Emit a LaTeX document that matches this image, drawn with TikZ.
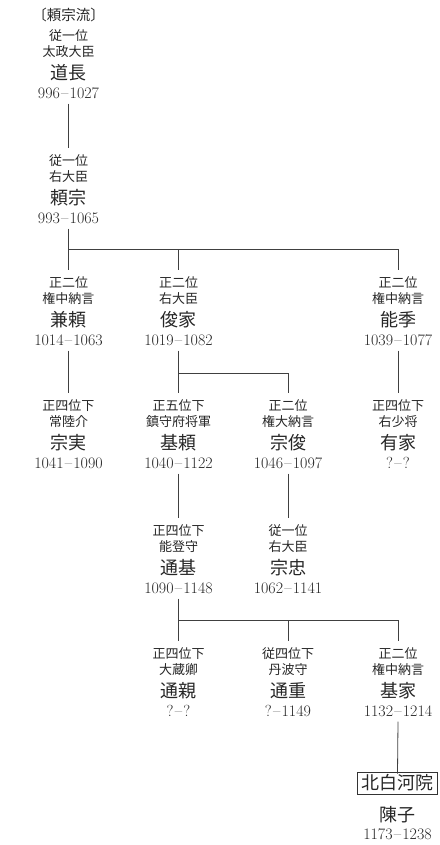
\documentclass[tikz,border=0pt]{standalone}
\usepackage{fontspec}
\newfontfamily\cjk{Noto Sans CJK JP}
\newcommand\yd{\kern1.2pt--\kern1.2pt}
\newcommand\person[4]{\vbox{\offinterlineskip\halign{\hfil##\hfil\cr
\vrule height16.9pt depth3pt width0pt\cjk\fontsize{13}{13}\selectfont #1\cr
\vrule height13pt depth3pt width0pt\cjk\fontsize{13}{13}\selectfont #2\cr
\vrule height20.2pt depth4pt width0pt\cjk\fontsize{18}{18}\selectfont #3\cr
\vrule height15.2pt depth5pt width0pt\rmfamily\fontsize{16}{16}\selectfont #4\cr}}}
\begin{document}
\begin{tikzpicture}[x=1pt,y=-1pt,
  person/.style={inner sep=0pt, anchor=north, text=black!85},
  conn/.style={line width=0.8pt, draw=black!75},
  title/.style={font=\cjk\fontsize{14.5}{14.5}\selectfont, text=black!85, inner sep=0pt},
  namebox/.style={draw=black!80, line width=0.8pt, font=\cjk\fontsize{18}{18}\selectfont, text=black!85, inner sep=0pt, minimum width=80pt, minimum height=22pt},
  bigname/.style={font=\cjk\fontsize{18}{18}\selectfont, text=black!85, inner sep=0pt},
  years/.style={font=\rmfamily\fontsize{16}{16}\selectfont, text=black!85, inner sep=0pt}]
\useasboundingbox (0,0) rectangle (439,845);
\node[title] (ryu) at (68.5,15) {〔頼宗流〕};
\node[person] (michinaga) at (68.5,23) {\person{従一位}{太政大臣}{道長}{996\yd1027}};
\node[person] (yorimune) at (68.5,148) {\person{従一位}{右大臣}{頼宗}{993\yd1065}};
\node[person] (kaneyori) at (68.5,270) {\person{正二位}{権中納言}{兼頼}{1014\yd1063}};
\node[person] (toshiie) at (178.5,270) {\person{正二位}{右大臣}{俊家}{1019\yd1082}};
\node[person] (yoshisue) at (398,270) {\person{正二位}{権中納言}{能季}{1039\yd1077}};
\node[person] (munezane) at (68.5,393) {\person{正四位下}{常陸介}{宗実}{1041\yd1090}};
\node[person] (motoyori) at (178.5,393) {\person{正五位下}{鎮守府将軍}{基頼}{1040\yd1122}};
\node[person] (munetoshi) at (288,393) {\person{正二位}{権大納言}{宗俊}{1046\yd1097}};
\node[person] (ariie) at (398,393) {\person{正四位下}{右少将}{有家}{?\yd?}};
\node[person] (michimoto) at (178.5,518) {\person{正四位下}{能登守}{通基}{1090\yd1148}};
\node[person] (munetada) at (288,518) {\person{従一位}{右大臣}{宗忠}{1062\yd1141}};
\node[person] (michichika) at (178.5,641) {\person{正四位下}{大蔵卿}{通親}{?\yd?}};
\node[person] (michishige) at (288,641) {\person{従四位下}{丹波守}{通重}{?\yd1149}};
\node[person] (motoie) at (398,641) {\person{正二位}{権中納言}{基家}{1132\yd1214}};
\node[namebox] (kitashirakawa) at (397.5,783) {北白河院};
\node[bigname] (noriko) at (397.5,815) {陳子};
\node[years] (norikoyears) at (397.5,834) {1173\yd1238};
\coordinate (j1) at (68.5,249);
\coordinate (j2) at (178.5,373);
\coordinate (j3) at (178.5,620);
\draw[conn] (michinaga.south) -- (yorimune.north);
\draw[conn] (yorimune.south) -- (j1) -- (kaneyori.north);
\draw[conn] (j1) -- (j1 -| yoshisue.north) -- (yoshisue.north);
\draw[conn] (j1 -| toshiie.north) -- (toshiie.north);
\draw[conn] (kaneyori.south) -- (munezane.north);
\draw[conn] (toshiie.south) -- (motoyori.north);
\draw[conn] (j2) -- (j2 -| munetoshi.north) -- (munetoshi.north);
\draw[conn] (yoshisue.south) -- (ariie.north);
\draw[conn] (motoyori.south) -- (michimoto.north);
\draw[conn] (munetoshi.south) -- (munetada.north);
\draw[conn] (michimoto.south) -- (michichika.north);
\draw[conn] (j3) -- (j3 -| motoie.north) -- (motoie.north);
\draw[conn] (j3 -| michishige.north) -- (michishige.north);
\draw[conn] (motoie.south) -- ([yshift=-2pt]kitashirakawa.north);
\end{tikzpicture}
\end{document}
